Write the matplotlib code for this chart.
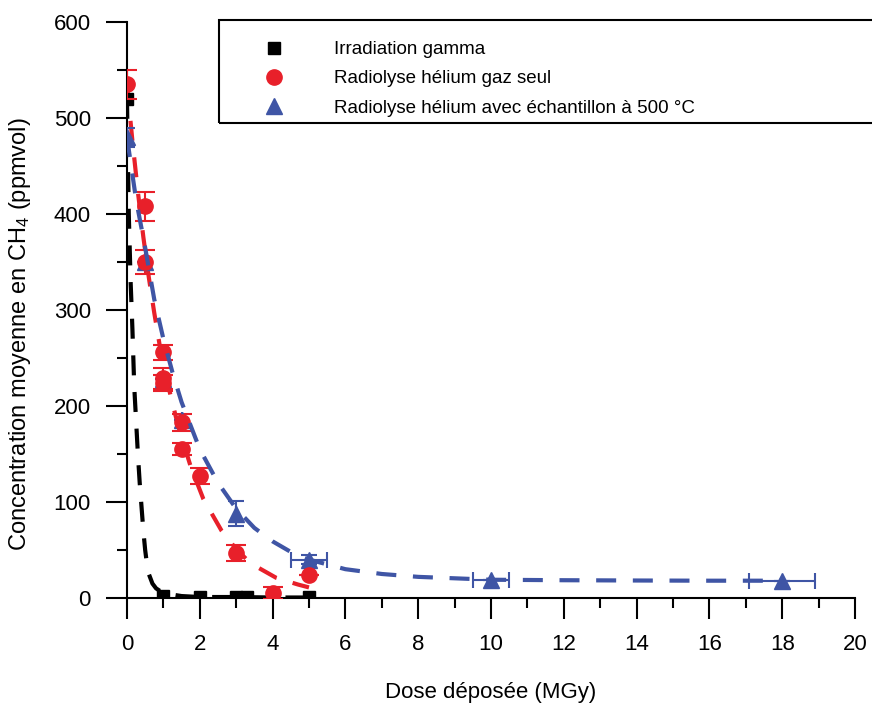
import matplotlib
matplotlib.use('Agg')
import matplotlib.pyplot as plt
from matplotlib.patches import Rectangle
from matplotlib.lines import Line2D

plt.rcParams['font.family'] = ['Liberation Sans', 'DejaVu Sans']
plt.rcParams['mathtext.fontset'] = 'custom'
plt.rcParams['mathtext.rm'] = 'Liberation Sans'
plt.rcParams['mathtext.it'] = 'Liberation Sans:italic'

# measured points
gamma_x = [0, 1, 2, 3, 3.3, 5]
gamma_y = [520, 2, 1, 1, 1, 1]

he_x = [0, 0.5, 0.5, 1, 1, 1, 1.5, 1.5, 2, 3, 4, 5]
he_y = [535, 408, 350, 256, 229, 224, 183, 155, 127, 47, 5, 24]
he_err = [15, 15, 13, 8, 11, 8, 9, 6, 8, 8, 6, 0]

ech_x = [0, 0.5, 1, 1.5, 3, 5, 10, 18]
ech_y = [480, 350, 228, 185, 88, 40, 19, 18]
ech_yerr = [10, 0, 0, 0, 13, 5, 0, 0]
ech_xerr = [0, 0, 0, 0, 0, 0.5, 0.5, 0.9]

# dashed curves
fit_gamma_x = [0, 0.05, 0.1, 0.15, 0.2, 0.25, 0.3, 0.35, 0.4, 0.45, 0.5, 0.55,
               0.6, 0.7, 0.8, 1.0, 1.5, 2, 3, 4, 5]
fit_gamma_y = [520, 400, 330, 280, 220, 185, 150, 120, 95, 70, 50, 35,
               25, 15, 10, 5, 2, 1, 1, 0.5, 0.5]

fit_he_x = [0, 0.15, 0.3, 0.45, 0.6, 0.75, 0.9, 1.1, 1.4, 1.75, 2.1, 2.6,
            3.0, 3.4, 4.1, 4.7, 5.0]
fit_he_y = [535, 476, 423, 376, 334, 297, 263, 226, 180, 137, 103, 70,
            51, 36, 21, 14, 11]

fit_ech_x = [0, 0.25, 0.5, 0.75, 1, 1.25, 1.5, 2, 2.5, 3, 3.5, 4, 4.5, 5,
             6, 7, 8, 10, 12, 14, 16, 18]
fit_ech_y = [480, 415, 365, 311, 270, 235, 204, 155, 120, 93, 73, 59, 48, 40,
             30, 25, 22, 19, 18.5, 18.2, 18, 18]

labels = ['Irradiation gamma', 'Radiolyse hélium gaz seul',
          'Radiolyse hélium avec échantillon à 500 °C']

RED = '#e8202a'
BLUE = '#3f55a5'

fig = plt.figure(figsize=(8.72, 7.07), dpi=100)
ax = fig.add_axes([0.1456, 0.1542, 0.8349, 0.8147])

dash = (0, (4.8, 4.0))
ax.plot(fit_gamma_x, fit_gamma_y, color='black', lw=3, ls=dash, zorder=2)
ax.plot(fit_he_x, fit_he_y, color=RED, lw=3, ls=dash, zorder=2)
ax.plot(fit_ech_x, fit_ech_y, color=BLUE, lw=3, ls=dash, zorder=4)

ax.plot(gamma_x, gamma_y, 's', color='black', ms=9, zorder=3)
ax.errorbar(ech_x, ech_y, yerr=ech_yerr, xerr=ech_xerr, fmt='^', color=BLUE,
            ms=11, elinewidth=1.5, capsize=6, capthick=1.5, zorder=3)
ax.errorbar(he_x, he_y, yerr=he_err, fmt='o', color=RED, ms=11,
            elinewidth=1.5, capsize=7, capthick=1.5, zorder=3)

ax.set_xlim(0, 20)
ax.set_ylim(0, 600)
ax.set_xticks(range(0, 21, 2))
ax.set_xticks(range(0, 21, 1), minor=True)
ax.set_yticks(range(0, 601, 100))
ax.set_yticks(range(0, 601, 50), minor=True)
for s in ['top', 'right']:
    ax.spines[s].set_visible(False)
for s in ['left', 'bottom']:
    ax.spines[s].set_linewidth(1.5)
ax.tick_params(which='major', length=15, width=1.5, labelsize=16, pad=11)
ax.tick_params(which='minor', length=7, width=1.5)

ax.set_xlabel('Dose déposée (MGy)', fontsize=16)
ax.xaxis.set_label_coords(0.5, -0.146)
ax.set_ylabel('Concentration moyenne en CH$_4$ (ppmvol)', fontsize=17)
ax.yaxis.set_label_coords(-0.129, 0.458)

handles = [Line2D([], [], ls='none', marker='s', color='black', ms=9),
           Line2D([], [], ls='none', marker='o', color=RED, ms=11),
           Line2D([], [], ls='none', marker='^', color=BLUE, ms=11)]
ax.legend(handles, labels, loc='upper left', bbox_to_anchor=(265 / 872, 1 - 41 / 707),
          bbox_transform=fig.transFigure, frameon=False, fontsize=13.5,
          handlelength=1.0, handletextpad=2.7, labelspacing=0.65, borderpad=0,
          borderaxespad=0)
fig.patches.append(Rectangle((219 / 872, 1 - 123 / 707), 0.8, 103 / 707,
                             transform=fig.transFigure, fill=False,
                             edgecolor='black', lw=1.5, clip_on=False))

fig.savefig('out.png', dpi=100)
